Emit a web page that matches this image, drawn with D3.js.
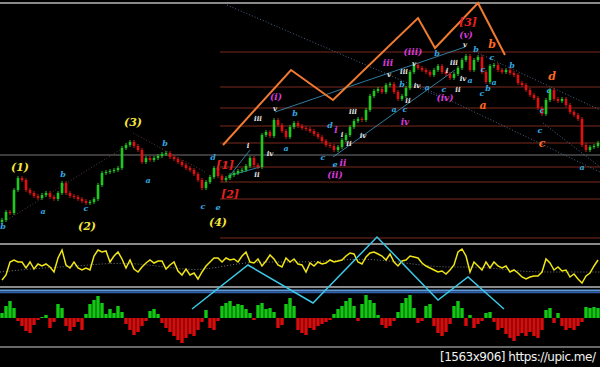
<!DOCTYPE html>
<html>
<head>
<meta charset="utf-8">
<script src="https://cdn.jsdelivr.net/npm/d3@7/dist/d3.min.js"></script>
<style>
body { margin: 0; background: #000; }
svg { display: block; }
</style>
</head>
<body>
<svg id="chart"></svg>
<script>
// data
var firstOpen = 18;
var closes = [20,28,27,50,62,60,50,47,44,42, 45,47,43,41,47,57,47,44,43,41,
  39,37,38,41,55,67,68,69,70,72, 92,95,98,94,90,78,82,80,82,84,
  86,87,83,81,78,75,72,70,66,60, 52,58,63,72,64,60,62,65,67,69,
  70,74,82,75,73,105,108,104,120,115, 109,103,113,117,114,112,111,109,106,103,
  99,95,94,90,93,100,105,113,119,121, 120,130,144,149,151,148,155,156,148,141,
  144,152,168,175,172,170,168,165,170,174, 168,166,162,166,172,180,184,170,180,183,
  168,158,174,175,170,168,170,167,165,157, 155,150,145,142,132,126,140,150,141,139,
  141,135,128,125,121,95,90,93,94,97];

var oscValues = [7,12,25,27,25,25,19,25,18,23, 21,23,20,15,29,37,22,19,25,19,
  17,19,17,31,37,35,36,25,31,35, 28,19,27,18,15,20,24,27,24,26,
  26,18,22,25,16,12,18,12,14,8, 15,21,25,29,29,25,29,27,28,25,
  31,35,25,24,28,21,26,32,28,22, 20,29,25,28,23,
  22,15,24,21,25,23,24,27,25,26, 27,31,34,33,25,23,30,34,35,33,
  31,27,33,25,21,26,27,31,30,29, 24,21,19,17,15,16,13,17,22,35,
  38,31,15,25,21,17,25,19,25,21, 19,21,15,17,14,10,8,10,11,11,
  15,28,24,17,20,16,17,10,13,8, 4,11,14,21,27];
var signalIdx = [0,10,20,30,40,50,60,70,80,90,100,110,120,130,140,150];
var signalValues = [15,19,21,25,21,15,25,25,25,29,25,19,21,15,15,15];

var histValues = [5,12,17,10,-3,-8,-13,-15,-7,-2, 1,3,-10,-4,14,10,-8,-13,-9,-4,
  -12,4,14,18,22,15,4,9,5,12, 6,-6,-12,-17,-14,-8,-3,7,9,4,
  -5,-10,-14,-18,-22,-25,-20,-16,-18,-12, -4,8,-10,-12,-3,12,15,17,12,14,
  13,9,5,-2,13,15,9,10,6,-10, -7,14,20,12,-12,-15,-17,-10,-12,-8,
  -6,-4,-2,4,9,12,17,20,12,-3, 14,23,18,15,3,-7,-10,-8,-3,6,
  15,20,23,10,-5,-3,12,14,-8,-15, -18,-14,-6,12,17,10,-8,3,-10,-6,
  -3,5,6,-4,-12,-10,-16,-20,-23,-18, -15,-18,-14,-18,-20,-12,8,10,-5,5,
  -8,-12,-10,-12,-8,-4,11,10,11,10];

// levels drawn from candle 55 to the right edge
var levelStart = 55;
var levels = [188,153,132,114,97,73,58,41,2];
var midLevel = 85;

// wave path and oscillator path (index, value)
var wavePath = [[55.75,95],[72.75,170],[83.25,140],[104.5,222],[108.75,192],[119.5,237],[126.25,185]];
var oscPath = [[48,-22],[62,22],[78.25,-16],[94.25,50],[109.5,-13],[117,10],[126,-22]];

// trend lines: [i1, p1, i2, p2]
var channelLines = [[68.75,128,116.25,193],[83.25,83,113.75,170],[57,62,62.5,90],[57,64,65,73]];
var dottedLines = [[119.5,187,150,130],[105,154,150,68],[135.75,117,150,73],[56.75,235,111.75,140],[1.75,20,30,90],[33.25,107,51.25,68]];

var yellowLabels = [[5,73,"(1)"],[21.75,14,"(2)"],[33.25,118,"(3)"],[54.5,18,"(4)"]];
var redLabels = [[56.25,75,"[1]"],[57.5,46,"[2]"],[117,218,"[3]"]];
var magentaLabels = [[69,143,"(i)"],[83.75,65,"(ii)"],[103.25,188,"(iii)"],[111.25,142,"(iv)"],[116.5,205,"(v)"],
  [84,110,"i"],[85.75,77,"ii"],[97,177,"iii"],[101.25,118,"iv"]];
var blueLabels = [[0.75,14,"b"],[10.75,29,"a"],[15.75,66,"b"],[21.5,32,"c"],[37,60,"a"],[41.25,97,"b"],[50.75,34,"c"],
  [54.5,33,"e"],[53.25,83,"d"],[71.5,92,"a"],[73.75,127,"b"],[82.5,115,"d"],[80.75,83,"c"],[83.75,76,"e"],
  [100.5,156,"b"],[98.5,131,"a"],[101.25,131,"c"],[109.25,187,"b"],[106.75,153,"a"],[111,151,"c"],[119,191,"b"],
  [117.5,160,"a"],[123,183,"c"],[120.75,171,"c"],[128,175,"b"],[123.5,158,"a"],[122,152,"b"],[120.5,147,"c"],
  [137.25,150,"c"],[135.5,130,"c"],[135,110,"c"],[145.5,73,"a"]];
var orangeLabels = [[123,196,"b"],[120.75,135,"a"],[138,164,"d"],[135.5,97,"c"]];
var whiteLabels = [[62,95,"i"],[64.25,66,"ii"],[64.5,122,"iii"],[68.75,132,"v"],[67.5,87,"iv"],
  [88.25,129,"iii"],[90.75,105,"iv"],[87.25,97,"ii"],[85.5,106,"i"],
  [97.25,166,"v"],[101,169,"iii"],[103.5,177,"v"],[104.25,155,"iv"],[102,140,"ii"],
  [111.75,170,"i"],[113.5,178,"iii"],[115.75,162,"iv"],[114.5,151,"ii"],[116.25,196,"v"]];

// size
var width = 600, height = 367;
var svg = d3.select('#chart').attr('width', width).attr('height', height);
svg.append('rect').attr('width', width).attr('height', height).attr('fill', '#000');

// scales
var xScale = d3.scaleLinear().domain([0, closes.length]).range([0, width]);
var yScale = d3.scaleLinear().domain([0, 240]).range([240, 0]);
var oscScale = d3.scaleLinear().domain([0, 43]).range([287, 244]);
var histScale = d3.scaleLinear().domain([-30, 30]).range([348, 288]);
var step = xScale(1) - xScale(0);

// panel borders
function hline(y, color, w) {
  svg.append('line').attr('x1', 0).attr('x2', width).attr('y1', y).attr('y2', y)
    .attr('stroke', color).attr('stroke-width', w);
}
hline(3, '#8a8a8a', 2);
hline(244, '#8a8a8a', 2);
hline(287, '#8a8a8a', 2);
hline(290.5, '#5f9ad8', 2);
hline(292.5, '#2f5fb0', 1.5);
hline(347, '#8a8a8a', 1.5);

// level lines
svg.append('g').selectAll('line').data(levels).enter().append('line')
  .attr('x1', xScale(levelStart)).attr('x2', width)
  .attr('y1', function(d){return yScale(d);}).attr('y2', function(d){return yScale(d);})
  .attr('stroke', '#7a2a1c').attr('stroke-width', 1);
svg.append('line').attr('x1', 0).attr('x2', width)
  .attr('y1', yScale(midLevel)).attr('y2', yScale(midLevel))
  .attr('stroke', '#777').attr('stroke-width', 1);

// dotted trend lines
svg.append('g').selectAll('line').data(dottedLines).enter().append('line')
  .attr('x1', function(d){return xScale(d[0]);}).attr('y1', function(d){return yScale(d[1]);})
  .attr('x2', function(d){return xScale(d[2]);}).attr('y2', function(d){return yScale(d[3]);})
  .attr('stroke', function(d, i){return i < 4 ? '#4a6688' : '#5a3a32';})
  .attr('stroke-width', 1).attr('stroke-dasharray', '1,2');

// channel lines
svg.append('g').selectAll('line').data(channelLines).enter().append('line')
  .attr('x1', function(d){return xScale(d[0]);}).attr('y1', function(d){return yScale(d[1]);})
  .attr('x2', function(d){return xScale(d[2]);}).attr('y2', function(d){return yScale(d[3]);})
  .attr('stroke', '#3a9cc8').attr('stroke-width', 0.8);

// candles
var candles = closes.map(function(c, i){
  return {i: i, open: i === 0 ? firstOpen : closes[i - 1], close: c};
});
var cg = svg.append('g');
cg.selectAll('line').data(candles).enter().append('line')
  .attr('x1', function(d){return xScale(d.i + 0.5);}).attr('x2', function(d){return xScale(d.i + 0.5);})
  .attr('y1', function(d){return yScale(Math.max(d.open, d.close)) - 2;})
  .attr('y2', function(d){return yScale(Math.min(d.open, d.close)) + 2;})
  .attr('stroke', function(d){return d.close >= d.open ? '#1ec81e' : '#e01010';})
  .attr('stroke-width', 1);
cg.selectAll('rect').data(candles).enter().append('rect')
  .attr('x', function(d){return xScale(d.i + 0.5) - 1.3;})
  .attr('width', 2.6)
  .attr('y', function(d){return yScale(Math.max(d.open, d.close));})
  .attr('height', function(d){return Math.max(1, Math.abs(yScale(d.open) - yScale(d.close)));})
  .attr('fill', function(d){return d.close >= d.open ? '#1ec81e' : '#e01010';});

// orange wave path
var waveLine = d3.line().x(function(d){return xScale(d[0]);}).y(function(d){return yScale(d[1]);});
svg.append('path').attr('d', waveLine(wavePath)).attr('fill', 'none')
  .attr('stroke', '#f07a30').attr('stroke-width', 2);

// labels
function labels(data, color, size) {
  svg.append('g').selectAll('text').data(data).enter().append('text')
    .attr('x', function(d){return xScale(d[0]);})
    .attr('y', function(d){return yScale(d[1]);})
    .attr('text-anchor', 'middle').attr('dominant-baseline', 'central')
    .attr('font-family', 'DejaVu Serif, serif').attr('font-style', 'italic').attr('font-weight', 'bold')
    .attr('font-size', size).attr('fill', color)
    .text(function(d){return d[2];});
}
labels(whiteLabels, '#e6e6e6', 7);
labels(blueLabels, '#33a8e0', 8);
labels(orangeLabels, '#ff6820', 11);
labels(magentaLabels, '#d93ad9', 9);
labels(redLabels, '#e82020', 11);
labels(yellowLabels, '#f5e63c', 11);

// oscillator
var oscLine = d3.line().x(function(d, i){return xScale(i + 0.5);}).y(function(d){return oscScale(d);});
svg.append('path').attr('d', d3.line()
    .x(function(d, i){return xScale(signalIdx[i]);}).y(function(d){return oscScale(d);})
    .curve(d3.curveBasis)(signalValues))
  .attr('fill', 'none').attr('stroke', '#777').attr('stroke-width', 1).attr('stroke-dasharray', '1,2');
svg.append('path').attr('d', oscLine(oscValues)).attr('fill', 'none')
  .attr('stroke', '#f0e614').attr('stroke-width', 1.5);

// histogram
svg.append('g').selectAll('rect').data(histValues).enter().append('rect')
  .attr('x', function(d, i){return xScale(i) + 0.3;})
  .attr('width', step - 0.6)
  .attr('y', function(d){return histScale(Math.max(0, d));})
  .attr('height', function(d){return Math.abs(histScale(d) - histScale(0));})
  .attr('fill', function(d){return d >= 0 ? '#12c812' : '#d80c0c';});

// cyan path over the lower panels
svg.append('path').attr('d', d3.line()
    .x(function(d){return xScale(d[0]);}).y(function(d){return oscScale(d[1]);})(oscPath))
  .attr('fill', 'none').attr('stroke', '#3cc8e6').attr('stroke-width', 1.5);

// watermark
svg.append('text').attr('x', 596).attr('y', 361).attr('text-anchor', 'end')
  .attr('font-family', 'DejaVu Sans, sans-serif').attr('font-size', 12).attr('fill', '#f2f2f2')
  .attr('textLength', 156).text('[1563x906] https://upic.me/');
</script>
</body>
</html>
